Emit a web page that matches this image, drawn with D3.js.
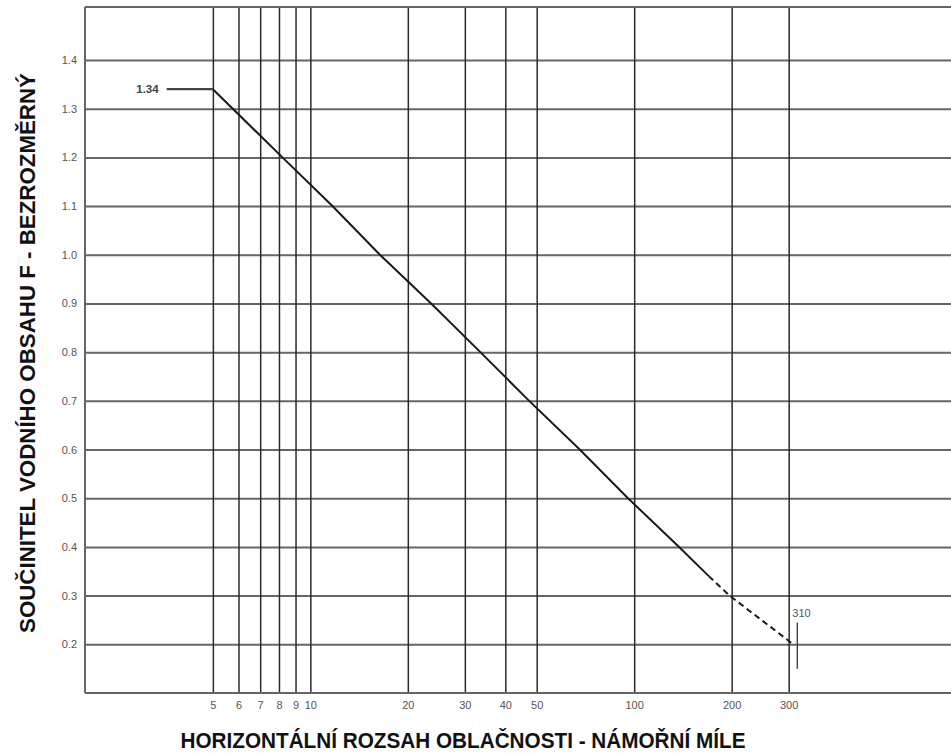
<!DOCTYPE html>
<html>
<head>
<meta charset="utf-8">
<script src="https://cdn.jsdelivr.net/npm/d3@7"></script>
<style>
  html, body { margin: 0; padding: 0; background: #fff; }
  svg { display: block; }
  text { font-family: "Liberation Sans", Arial, sans-serif; }
</style>
</head>
<body>
<svg id="chart" width="951" height="755"></svg>
<script>
// Horizontal cloud extent (nautical miles) on the log axis
const xTicks = [5, 6, 7, 8, 9, 10, 20, 30, 40, 50, 100, 200, 300];
// Water content factor F gridlines
const yTicks = [0.2, 0.3, 0.4, 0.5, 0.6, 0.7, 0.8, 0.9, 1.0, 1.1, 1.2, 1.3, 1.4];

// Curve: solid part, then dashed extrapolation out to 310 NM
const curveSolidX = [5, 8.2, 11.7, 16.4, 23.6, 33.5, 47.4, 67.9, 95.7, 137.6, 170];
const curveSolidF = [1.34, 1.2, 1.1, 1.0, 0.9, 0.8, 0.7, 0.6, 0.5, 0.4, 0.34];
const curveDashX = [170, 197, 310];
const curveDashF = [0.34, 0.3, 0.2];

// Annotated values
const plateauF = 1.34;
const plateauLeaderX = [3.6, 5];
const endX = 310;
const endTickF = [0.245, 0.15];

const xTitle = "HORIZONTÁLNÍ ROZSAH OBLAČNOSTI - NÁMOŘNÍ MÍLE";
const yTitle = "SOUČINITEL VODNÍHO OBSAHU F - BEZROZMĚRNÝ";

const plot = { left: 85, top: 7, bottom: 693, right: 951 };

const svg = d3.select("#chart");

const x = d3.scaleLog().domain([2, 1000]).range([84, 958]);
const y = d3.scaleLinear().domain([0.1, 1.4]).range([693, 60]);

const fmtY = d3.format(".1f");

// Horizontal gridlines with value labels on the left
const yAxis = d3.axisLeft(y)
  .tickValues(yTicks)
  .tickFormat(fmtY)
  .tickSizeInner(-(plot.right - plot.left))
  .tickSizeOuter(0)
  .tickPadding(8);

const gy = svg.append("g")
  .attr("transform", `translate(${plot.left},0)`)
  .call(yAxis);
gy.select(".domain").remove();
gy.selectAll(".tick line").attr("stroke", "#666").attr("stroke-width", 2);
gy.selectAll(".tick text")
  .attr("fill", "#555")
  .attr("font-size", 11)
  .attr("font-family", "'Liberation Sans', Arial, sans-serif");

// Vertical gridlines with mileage labels below
const xAxis = d3.axisBottom(x)
  .tickValues(xTicks)
  .tickFormat(d3.format("d"))
  .tickSizeInner(-(plot.bottom - plot.top))
  .tickSizeOuter(0)
  .tickPadding(8);

const gx = svg.append("g")
  .attr("transform", `translate(0,${plot.bottom})`)
  .call(xAxis);
gx.select(".domain").remove();
gx.selectAll(".tick line").attr("stroke", "#2a2a2a").attr("stroke-width", 1.5);
gx.selectAll(".tick text")
  .attr("fill", "#555")
  .attr("font-size", 11)
  .attr("font-family", "'Liberation Sans', Arial, sans-serif");

// Frame: left, top and bottom edges (open on the right)
const frame = svg.append("g").attr("stroke", "#666").attr("stroke-width", 2).attr("fill", "none");
frame.append("line").attr("x1", plot.left).attr("x2", plot.right).attr("y1", plot.top).attr("y2", plot.top);
frame.append("line").attr("x1", plot.left).attr("x2", plot.right).attr("y1", plot.bottom).attr("y2", plot.bottom);
frame.append("line").attr("x1", plot.left).attr("x2", plot.left).attr("y1", plot.top).attr("y2", plot.bottom);

// Curve
const line = d3.line().x(d => x(d[0])).y(d => y(d[1]));
const solidPts = curveSolidX.map((v, i) => [v, curveSolidF[i]]);
const dashPts = curveDashX.map((v, i) => [v, curveDashF[i]]);

svg.append("path")
  .datum(solidPts)
  .attr("d", line)
  .attr("fill", "none")
  .attr("stroke", "#1a1a1a")
  .attr("stroke-width", 2);

svg.append("path")
  .datum(dashPts)
  .attr("d", line)
  .attr("fill", "none")
  .attr("stroke", "#1a1a1a")
  .attr("stroke-width", 2)
  .attr("stroke-dasharray", "6,4");

// Plateau leader and its value
svg.append("line")
  .attr("x1", x(plateauLeaderX[0])).attr("x2", x(plateauLeaderX[1]))
  .attr("y1", y(plateauF)).attr("y2", y(plateauF))
  .attr("stroke", "#444").attr("stroke-width", 2.2);

svg.append("text")
  .attr("x", x(plateauLeaderX[0]) - 8)
  .attr("y", y(plateauF) + 4)
  .attr("text-anchor", "end")
  .attr("font-size", 11.5)
  .attr("font-weight", "bold")
  .attr("fill", "#444")
  .text(d3.format(".2f")(plateauF));

// End marker at 310 NM
svg.append("line")
  .attr("x1", x(endX) + 4).attr("x2", x(endX) + 4)
  .attr("y1", y(endTickF[0])).attr("y2", y(endTickF[1]))
  .attr("stroke", "#333").attr("stroke-width", 1.3);

svg.append("text")
  .attr("x", x(endX) - 1)
  .attr("y", y(endTickF[0]) - 5)
  .attr("font-size", 11)
  .attr("fill", "#555")
  .text(endX);

// Axis titles
svg.append("text")
  .attr("x", 463)
  .attr("y", 748)
  .attr("text-anchor", "middle")
  .attr("font-size", 22)
  .attr("font-weight", "bold")
  .attr("fill", "#111")
  .attr("textLength", 565)
  .attr("lengthAdjust", "spacingAndGlyphs")
  .text(xTitle);

svg.append("text")
  .attr("transform", "translate(35,353) rotate(-90)")
  .attr("text-anchor", "middle")
  .attr("font-size", 22)
  .attr("font-weight", "bold")
  .attr("fill", "#111")
  .attr("textLength", 560)
  .attr("lengthAdjust", "spacingAndGlyphs")
  .text(yTitle);
</script>
</body>
</html>
